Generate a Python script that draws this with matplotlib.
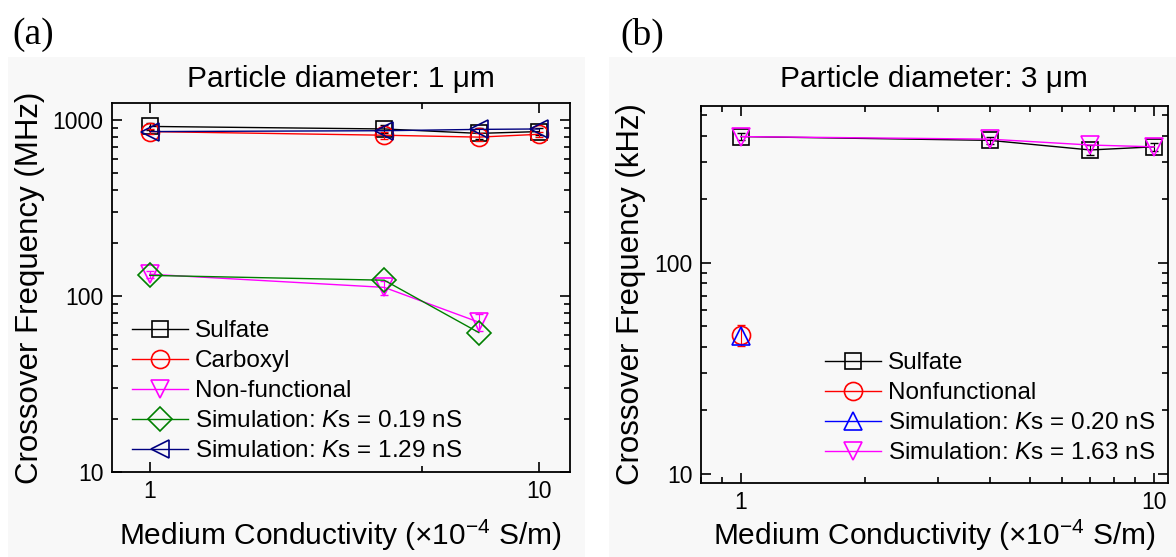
import matplotlib
matplotlib.use("Agg")
import matplotlib.pyplot as plt
from matplotlib.ticker import LogLocator, FixedLocator, NullFormatter, FixedFormatter
from matplotlib.patches import Rectangle

plt.rcParams['font.family'] = ['Liberation Sans', 'DejaVu Sans']
plt.rcParams['mathtext.fontset'] = 'custom'
plt.rcParams['mathtext.rm'] = 'Liberation Sans'
plt.rcParams['mathtext.it'] = 'Liberation Sans:italic'
plt.rcParams['axes.unicode_minus'] = True

# ---------------- data ----------------
# Panel (a): particle diameter 1 um (MHz)
a_x = [1, 4, 7, 10]
a_sulfate = [920, 890, 840, 860]
a_sulfate_err = [40, 50, 60, 40]
a_carboxyl = [860, 820, 800, 830]
a_carboxyl_err = [30, 40, 40, 30]
a_nonfunc_x = [1, 4, 7]
a_nonfunc = [133, 112, 71]
a_nonfunc_err = [6, 10, 8]
a_sim019_x = [1, 4, 7]
a_sim019 = [131, 123, 62]
a_sim129 = [860, 870, 885, 890]

# Panel (b): particle diameter 3 um (kHz)
b_x = [1, 4, 7, 10]
b_sulfate = [397, 381, 343, 355]
b_sulfate_err = [15, 15, 20, 15]
b_nonfunc_x = [1]
b_nonfunc = [45.6]
b_nonfunc_err = [5]
b_sim020_x = [1]
b_sim020 = [45.0]
b_sim163 = [397, 386, 362, 355]

a_labels = ["Sulfate", "Carboxyl", "Non-functional",
            r"Simulation: $\mathit{K}$s = 0.19 nS", r"Simulation: $\mathit{K}$s = 1.29 nS"]
b_labels = ["Sulfate", "Nonfunctional",
            r"Simulation: $\mathit{K}$s = 0.20 nS", r"Simulation: $\mathit{K}$s = 1.63 nS"]

W, H = 1176, 557
fig = plt.figure(figsize=(W / 100, H / 100), dpi=100)

def px_rect(x0, y0, x1, y1):
    return [x0 / W, 1 - y1 / H, (x1 - x0) / W, (y1 - y0) / H]

# grey panel backgrounds
bg = '#f8f8f8'
fig.patches.append(Rectangle((8 / W, 0), (585 - 8) / W, 1 - 57 / H, transform=fig.transFigure,
                             facecolor=bg, edgecolor='none', zorder=-10))
fig.patches.append(Rectangle((609 / W, 0), (1176 - 609) / W, 1 - 57 / H, transform=fig.transFigure,
                             facecolor=bg, edgecolor='none', zorder=-10))

fig.text(12 / W, 1 - 35 / H, "(a)", family='Liberation Serif', fontsize=27, ha='left', va='center')
fig.text(620 / W, 1 - 35 / H, "(b)", family='Liberation Serif', fontsize=27, ha='left', va='center')

axA = fig.add_axes(px_rect(112, 103, 570, 472))
axB = fig.add_axes(px_rect(700.7, 105.7, 1168, 483))

ms = 13
lw = 1.0
mew = 1.2
TITLE_FS = 21.5
LABEL_FS = 22.5
XLABEL_FS = 21.5
LEG_FS = 17.5

def style(ax):
    ax.set_facecolor('none')
    ax.set_xscale('log')
    ax.set_yscale('log')
    for s in ax.spines.values():
        s.set_linewidth(1.3)
    ax.tick_params(which='both', direction='in', top=True, right=True, labelsize=16.5, width=1.2, pad=6)
    ax.tick_params(which='major', length=7)
    ax.tick_params(which='minor', length=4)

def series(ax, x, y, color, marker, size, label, yerr=None):
    if yerr is not None:
        ax.errorbar(x, y, yerr=yerr, fmt='none', ecolor=color, elinewidth=0.8, capsize=3)
    line, = ax.plot(x, y, color=color, marker=marker, ms=size, mfc='none', mew=mew, lw=lw, label=label)
    return line

# ---- panel (a)
style(axA)
hA = [
    series(axA, a_x, a_sulfate, 'black', 's', ms - 2, a_labels[0], a_sulfate_err),
    series(axA, a_x, a_carboxyl, '#ff0000', 'o', ms, a_labels[1], a_carboxyl_err),
    series(axA, a_nonfunc_x, a_nonfunc, '#ff00ff', 'v', ms, a_labels[2], a_nonfunc_err),
    series(axA, a_sim019_x, a_sim019, '#008000', 'D', ms - 1, a_labels[3]),
    series(axA, a_x, a_sim129, '#000080', '<', ms, a_labels[4]),
]
axA.set_xlim(0.8, 12)
axA.set_ylim(10, 1250)
axA.xaxis.set_major_locator(FixedLocator([1, 10]))
axA.xaxis.set_major_formatter(FixedFormatter(['1', '10']))
axA.xaxis.set_minor_locator(FixedLocator([5]))
axA.xaxis.set_minor_formatter(NullFormatter())
axA.yaxis.set_major_locator(FixedLocator([10, 100, 1000]))
axA.yaxis.set_major_formatter(FixedFormatter(['10', '100', '1000']))
axA.yaxis.set_minor_locator(LogLocator(base=10, subs=range(2, 10)))
axA.yaxis.set_minor_formatter(NullFormatter())
axA.set_title("Particle diameter: 1 \u03bcm", fontsize=TITLE_FS, y=(472 - 79) / 369, va='center', pad=0)
axA.set_xlabel("Medium Conductivity (\u00d710$^{-4}$ S/m)", fontsize=XLABEL_FS, va='center', ha='center')
axA.xaxis.set_label_coords(0.499, (472 - 535) / 369)
axA.set_ylabel("Crossover Frequency (MHz)", fontsize=LABEL_FS, va='center', ha='center')
axA.yaxis.set_label_coords((30 - 112) / 458, 0.5)

axA.legend(hA, a_labels, loc='upper left', bbox_to_anchor=((132 - 112) / 458, (472 - 320) / 369),
           frameon=False, fontsize=LEG_FS, handlelength=2.3, handletextpad=0.3, labelspacing=0.33,
           borderpad=0, borderaxespad=0)

# ---- panel (b)
style(axB)
hB = [
    series(axB, b_x, b_sulfate, 'black', 's', ms - 2, b_labels[0], b_sulfate_err),
    series(axB, b_nonfunc_x, b_nonfunc, '#ff0000', 'o', ms, b_labels[1], b_nonfunc_err),
    series(axB, b_sim020_x, b_sim020, '#0000ff', '^', ms, b_labels[2]),
    series(axB, b_x, b_sim163, '#ff00ff', 'v', ms, b_labels[3]),
]
axB.set_xlim(0.8, 10.8)
axB.set_ylim(9.06, 556)
axB.xaxis.set_major_locator(FixedLocator([1, 10]))
axB.xaxis.set_major_formatter(FixedFormatter(['1', '10']))
axB.xaxis.set_minor_locator(LogLocator(base=10, subs=range(2, 10)))
axB.xaxis.set_minor_formatter(NullFormatter())
axB.yaxis.set_major_locator(FixedLocator([10, 100]))
axB.yaxis.set_major_formatter(FixedFormatter(['10', '100']))
axB.yaxis.set_minor_locator(LogLocator(base=10, subs=range(2, 10)))
axB.yaxis.set_minor_formatter(NullFormatter())
axB.set_title("Particle diameter: 3 \u03bcm", fontsize=TITLE_FS, y=(483 - 79) / 377.3, va='center', pad=0)
axB.set_xlabel("Medium Conductivity (\u00d710$^{-4}$ S/m)", fontsize=XLABEL_FS, va='center', ha='center')
axB.xaxis.set_label_coords(0.5, (483 - 535) / 377.3)
axB.set_ylabel("Crossover Frequency (kHz)", fontsize=LABEL_FS, va='center', ha='center')
axB.yaxis.set_label_coords((631 - 700.7) / 467.3, 0.5)

axB.legend(hB, b_labels, loc='upper left', bbox_to_anchor=((825 - 700.7) / 467.3, (483 - 352) / 377.3),
           frameon=False, fontsize=LEG_FS, handlelength=2.3, handletextpad=0.3, labelspacing=0.33,
           borderpad=0, borderaxespad=0)

fig.savefig("out.png", dpi=100, facecolor='white')
